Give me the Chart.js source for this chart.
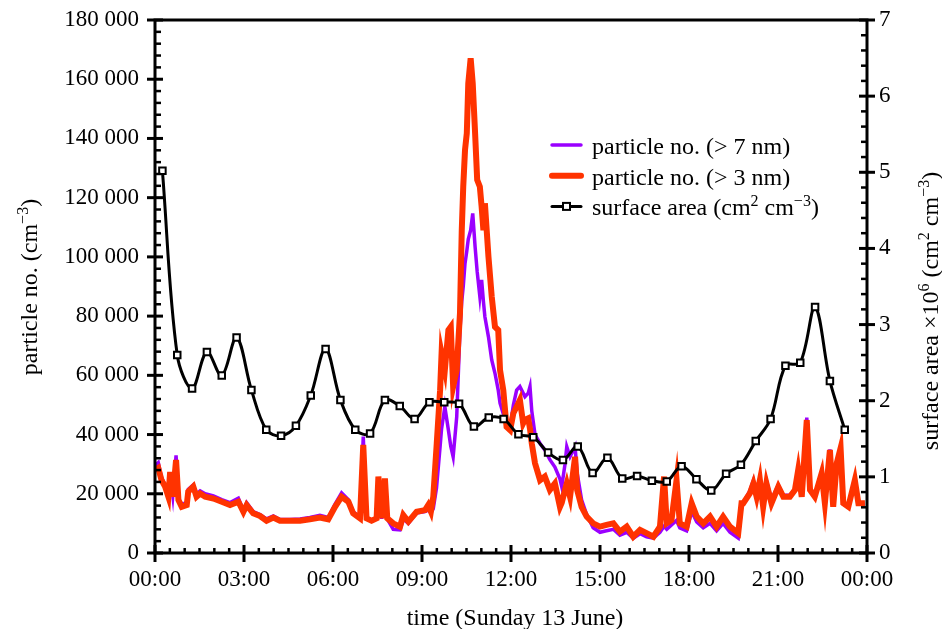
<!DOCTYPE html>
<html>
<head>
<meta charset="utf-8">
<script src="https://cdn.jsdelivr.net/npm/chart.js@4.4.0/dist/chart.umd.min.js"></script>
<style>
  html, body { margin: 0; padding: 0; background: #fff; }
  #wrap { width: 942px; height: 629px; position: relative; }
</style>
</head>
<body>
<div id="wrap"><canvas id="grafico"></canvas></div>
<script>
// time of day in hours (Sunday 13 June)
var hours = [0.00, 0.11, 0.22, 0.34, 0.45, 0.51, 0.60, 0.71, 0.79, 0.90, 1.07, 1.12, 1.29, 1.40, 1.52, 1.69, 1.97,
  2.25, 2.53, 2.81, 2.98, 3.09, 3.31, 3.54, 3.76, 3.99, 4.21, 4.55, 4.89, 5.22, 5.56, 5.84, 6.07, 6.29, 6.52,
  6.68, 6.91, 7.02, 7.13, 7.30, 7.47, 7.53, 7.64, 7.75, 7.83, 8.03, 8.26, 8.37, 8.54, 8.82, 9.10, 9.21, 9.30,
  9.38, 9.49, 9.61, 9.66, 9.77, 9.89, 9.97, 10.05, 10.17, 10.28, 10.34, 10.39, 10.45, 10.51, 10.56, 10.64,
  10.71, 10.79, 10.86, 10.95, 11.01, 11.07, 11.12, 11.24, 11.35, 11.46, 11.57, 11.63, 11.74, 11.85, 11.97,
  12.08, 12.19, 12.30, 12.41, 12.47, 12.58, 12.64, 12.70, 12.81, 12.98, 13.14, 13.31, 13.48, 13.65, 13.71,
  13.82, 13.88, 13.99, 14.16, 14.23, 14.38, 14.55, 14.77, 15.00, 15.22, 15.45, 15.67, 15.90, 16.12, 16.35,
  16.57, 16.80, 17.02, 17.16, 17.25, 17.41, 17.58, 17.69, 17.92, 18.09, 18.26, 18.48, 18.71, 18.93, 19.15,
  19.38, 19.66, 19.77, 19.83, 20.05, 20.17, 20.28, 20.39, 20.50, 20.61, 20.78, 21.01, 21.18, 21.40, 21.57,
  21.68, 21.80, 21.97, 22.08, 22.24, 22.47, 22.58, 22.75, 22.86, 22.98, 23.11, 23.20, 23.37, 23.59, 23.71, 23.93];

// particle no. (> 3 nm), cm-3
var n3nm = [28000, 28700, 24600, 22400, 19000, 27400, 19000, 31400, 17900, 15600, 16200, 20700, 22400, 19000, 20100, 19000, 18400,
  17300, 16200, 17300, 13900, 16200, 13400, 12500, 10900, 12000, 10900, 10900, 10900, 11400, 12000, 11400, 15600, 19000, 17300,
  13400, 11700, 36500, 11700, 10900, 11700, 25800, 11700, 25200, 11700, 10000, 8900, 12800, 10600, 13900, 14500, 16200, 14000,
  19000, 35900, 55000, 67400, 61800, 75300, 76400, 56200, 61800, 80900, 109000, 123700, 136100, 141700, 158600, 167100,
  158600, 141700, 126000, 123700, 116900, 109000, 118100, 100100, 86600, 76400, 75300, 61800, 55000, 42600, 41500,
  47200, 49400, 51700, 43800, 45000, 45500, 42000, 37000, 30300, 24600, 25800, 21300, 23500, 15600, 17000,
  21300, 23500, 19000, 32500, 21300, 15600, 12300, 10000, 8900, 9500, 10000, 7200, 8900, 5500, 7800,
  6700, 5500, 8900, 25800, 10000, 11100, 24600, 10000, 8900, 16800, 12300, 10000, 12300, 8900, 12300,
  8900, 6700, 16800, 16800, 20100, 23500, 19000, 24600, 15600, 23500, 16800, 22400, 19000, 19000, 21300,
  28000, 19000, 44900, 21300, 19000, 26900, 16800, 34800, 15600, 30300, 35400, 16800, 15600, 24600, 16800, 16800];

// particle no. (> 7 nm), cm-3
var n7nm = [29500, 30500, 25500, 23000, 19500, 27000, 19500, 33000, 18500, 16500, 17000, 21500, 23000, 20000, 21000, 20000, 19300,
  18000, 17000, 18500, 14500, 17000, 14000, 13000, 11500, 12500, 11300, 11300, 11500, 12000, 12700, 12000, 16500, 20300, 18000,
  14000, 12000, 39300, 12000, 11000, 11500, 24000, 11500, 23500, 11500, 8000, 7800, 11500, 10000, 13500, 14000, 14500, 13500,
  15000, 22000, 35900, 42000, 49400, 41500, 36000, 32500, 46000, 75300, 85000, 90000, 97800, 102000, 106000, 109000,
  114700, 103400, 95000, 86600, 92200, 85000, 79800, 73000, 65200, 60700, 55000, 50600, 47000, 44900, 42600,
  50000, 55000, 56200, 54000, 52800, 54000, 56200, 48000, 40000, 37000, 34800, 31500, 29000, 25000, 22400,
  30000, 35900, 32500, 35900, 27000, 18000, 13000, 8500, 7000, 7500, 8000, 6000, 7000, 5000, 6500,
  5500, 5000, 7000, 9000, 8000, 9500, 11000, 8500, 7500, 14000, 10500, 8500, 10000, 7500, 10000,
  7000, 5000, 15000, 17000, 21000, 24500, 19500, 25500, 17000, 24500, 18000, 23000, 19500, 19500, 21500,
  28500, 19500, 45700, 22000, 19500, 27500, 17000, 35000, 16000, 31000, 35500, 16500, 15500, 24500, 16500, 16500];

// surface area x10^6, cm2 cm-3 (half-hourly)
var hoursArea = [0.25, 0.75, 1.25, 1.75, 2.25, 2.75, 3.25, 3.75, 4.25, 4.75, 5.25, 5.75, 6.25, 6.75, 7.25, 7.75,
  8.25, 8.75, 9.25, 9.75, 10.25, 10.75, 11.25, 11.75, 12.25, 12.75, 13.25, 13.75, 14.25, 14.75, 15.25, 15.75,
  16.25, 16.75, 17.25, 17.75, 18.25, 18.75, 19.25, 19.75, 20.25, 20.75, 21.25, 21.75, 22.25, 22.75, 23.25];
var surfaceArea = [5.02, 2.60, 2.16, 2.64, 2.33, 2.83, 2.14, 1.62, 1.54, 1.67, 2.07, 2.68, 2.01, 1.62, 1.57, 2.01,
  1.93, 1.76, 1.98, 1.98, 1.96, 1.66, 1.78, 1.76, 1.56, 1.52, 1.32, 1.22, 1.40, 1.05, 1.25, 0.98,
  1.01, 0.95, 0.94, 1.14, 0.97, 0.82, 1.04, 1.16, 1.47, 1.76, 2.46, 2.50, 3.23, 2.26, 1.62];

var timeLabels = ["00:00", "03:00", "06:00", "09:00", "12:00", "15:00", "18:00", "21:00", "00:00"];

(function () {
  "use strict";
  var SERIF = "'Liberation Serif', 'Times New Roman', serif";
  var PURPLE = "#9a00ff", ORANGE = "#ff3300";

  function pares(xs, ys) {
    return xs.map(function (x, i) { return { x: x, y: ys[i] }; });
  }

  // text with superscripts: partes = [[text, isSup], ...], centred on (x, y)
  function textoRico(ctx, partes, x, y, ang, tam, alinha) {
    var fN = tam + "px " + SERIF, fS = Math.round(tam * 0.68) + "px " + SERIF;
    var total = 0;
    partes.forEach(function (p) { ctx.font = p[1] ? fS : fN; total += ctx.measureText(p[0]).width; });
    ctx.save();
    ctx.translate(x, y); ctx.rotate(ang);
    ctx.textAlign = "left"; ctx.textBaseline = "alphabetic"; ctx.fillStyle = "#000";
    var cx = alinha === "left" ? 0 : -total / 2;
    partes.forEach(function (p) {
      ctx.font = p[1] ? fS : fN;
      ctx.fillText(p[0], cx, p[1] ? -tam * 0.38 : 0);
      cx += ctx.measureText(p[0]).width;
    });
    ctx.restore();
  }

  function marcasEixo(ctx, ticks, subdiv, fn) {
    for (var i = 0; i < ticks.length; i++) {
      fn(ticks[i].value, true);
      if (i < ticks.length - 1) {
        var a = ticks[i].value, b = ticks[i + 1].value;
        for (var k = 1; k < subdiv; k++) fn(a + (b - a) * k / subdiv, false);
      }
    }
  }

  var moldura = {
    id: "moldura",
    afterDraw: function (c) {
      var ctx = c.ctx, A = c.chartArea, sx = c.scales.x, sy = c.scales.y, sy1 = c.scales.y1;
      ctx.save();
      ctx.strokeStyle = "#000"; ctx.lineCap = "square";
      // frame
      ctx.lineWidth = 3;
      ctx.beginPath();
      ctx.moveTo(A.left, A.top); ctx.lineTo(A.right, A.top);
      ctx.lineTo(A.right, A.bottom); ctx.lineTo(A.left, A.bottom); ctx.closePath();
      ctx.stroke();
      ctx.lineCap = "butt";
      // left axis ticks
      marcasEixo(ctx, sy.ticks, 5, function (v, maior) {
        var p = sy.getPixelForValue(v);
        ctx.lineWidth = maior ? 3 : 2.5;
        ctx.beginPath(); ctx.moveTo(A.left - (maior ? 8 : 0), p); ctx.lineTo(A.left + (maior ? 8 : 6), p); ctx.stroke();
      });
      // right axis ticks
      marcasEixo(ctx, sy1.ticks, 5, function (v, maior) {
        var p = sy1.getPixelForValue(v);
        ctx.lineWidth = maior ? 3 : 2.5;
        ctx.beginPath(); ctx.moveTo(A.right + (maior ? 8 : 0), p); ctx.lineTo(A.right - (maior ? 8 : 6), p); ctx.stroke();
      });
      // bottom axis ticks
      marcasEixo(ctx, sx.ticks, 6, function (v, maior) {
        var p = sx.getPixelForValue(v);
        ctx.lineWidth = maior ? 3 : 2.5;
        ctx.beginPath(); ctx.moveTo(p, A.bottom + (maior ? 9 : 0)); ctx.lineTo(p, A.bottom - (maior ? 8 : 5)); ctx.stroke();
      });
      ctx.restore();

      // axis titles
      textoRico(ctx, [["particle no. (cm", false], ["\u22123", true], [")", false]], 37, 287, -Math.PI / 2, 24);
      textoRico(ctx, [["surface area \u00d710", false], ["6", true], [" (cm", false], ["2", true], [" cm", false], ["\u22123", true], [")", false]],
        938, 311, -Math.PI / 2, 24);
      textoRico(ctx, [["time (Sunday 13 June)", false]], 515, 625, 0, 24);

      // legend
      var linhas = [
        { cor: PURPLE, larg: 3.5, txt: [["particle no. (> 7 nm)", false]] },
        { cor: ORANGE, larg: 6, txt: [["particle no. (> 3 nm)", false]] },
        { cor: "#000", larg: 3, marca: true, txt: [["surface area (cm", false], ["2", true], [" cm", false], ["\u22123", true], [")", false]] }
      ];
      linhas.forEach(function (l, i) {
        var yb = 154 + i * 30.7, yl = yb - 9;
        ctx.save();
        ctx.strokeStyle = l.cor; ctx.lineWidth = l.larg; ctx.lineCap = "round";
        ctx.beginPath(); ctx.moveTo(552, yl); ctx.lineTo(581, yl); ctx.stroke();
        if (l.marca) {
          ctx.fillStyle = "#fff"; ctx.lineWidth = 2; ctx.lineCap = "butt";
          ctx.fillRect(563, yl - 3.5, 7, 7); ctx.strokeRect(563, yl - 3.5, 7, 7);
        }
        ctx.restore();
        textoRico(ctx, l.txt, 592, yb, 0, 24, "left");
      });
    }
  };

  function semFolga(s) { s.paddingTop = 0; s.paddingBottom = 0; s.paddingLeft = 0; s.paddingRight = 0; }

  Chart.defaults.font.family = SERIF;
  Chart.defaults.color = "#000";

  new Chart(document.getElementById("grafico"), {
    type: "line",
    data: {
      datasets: [
        { label: "particle no. (> 7 nm)", data: pares(hours, n7nm), yAxisID: "y", order: 3,
          borderColor: PURPLE, borderWidth: 3.5, pointRadius: 0, tension: 0, fill: false },
        { label: "particle no. (> 3 nm)", data: pares(hours, n3nm), yAxisID: "y", order: 2,
          borderColor: ORANGE, borderWidth: 6, pointRadius: 0, tension: 0, fill: false },
        { label: "surface area (cm2 cm-3)", data: pares(hoursArea, surfaceArea), yAxisID: "y1", order: 1,
          borderColor: "#000", borderWidth: 3, tension: 0.35, fill: false,
          pointStyle: "rect", pointRadius: 4.6, pointBorderWidth: 2, pointBackgroundColor: "#fff", pointBorderColor: "#000" }
      ]
    },
    plugins: [moldura],
    options: {
      responsive: true, maintainAspectRatio: false, animation: false,
      layout: { padding: { top: 20, left: 0, right: 0, bottom: 0 } },
      plugins: { legend: { display: false }, tooltip: { enabled: false } },
      scales: {
        x: {
          type: "linear", min: 0, max: 24,
          grid: { display: false, drawTicks: false }, border: { display: false },
          ticks: { stepSize: 3, padding: 13, maxRotation: 0, font: { size: 23 },
            callback: function (v) { return timeLabels[Math.round(v / 3)]; } },
          afterFit: function (s) { s.height = 76; semFolga(s); }
        },
        y: {
          position: "left", min: 0, max: 180000,
          grid: { display: false, drawTicks: false }, border: { display: false },
          ticks: { stepSize: 20000, padding: 16, font: { size: 23 },
            callback: function (v) { return v === 0 ? "0" : Math.floor(v / 1000) + " 000"; } },
          afterFit: function (s) { s.width = 155; semFolga(s); }
        },
        y1: {
          position: "right", min: 0, max: 7,
          grid: { display: false, drawTicks: false }, border: { display: false },
          ticks: { stepSize: 1, padding: 12, font: { size: 23 } },
          afterFit: function (s) { s.width = 75; semFolga(s); }
        }
      }
    }
  });
})();
</script>
</body>
</html>
